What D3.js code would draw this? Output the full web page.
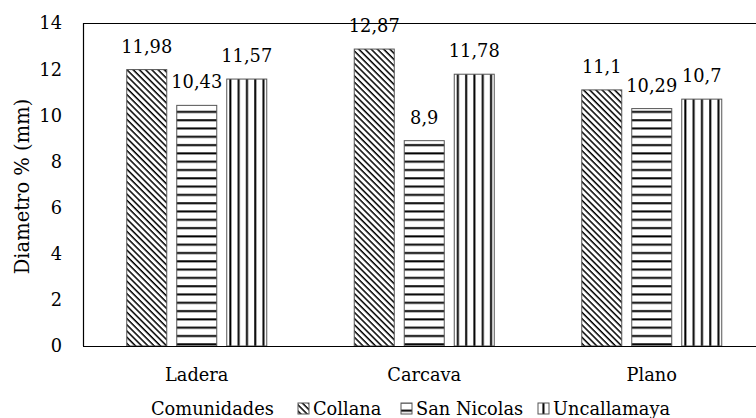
<!DOCTYPE html>
<html>
<head>
<meta charset="utf-8">
<script src="https://cdn.jsdelivr.net/npm/d3@7"></script>
<style>
  body { margin: 0; background: #fff; }
  svg { display: block; font-family: "DejaVu Serif", serif; }
</style>
</head>
<body>
<div id="chart"></div>
<script>
const categories = ["Ladera", "Carcava", "Plano"];
const series = ["Collana", "San Nicolas", "Uncallamaya"];
const collana = [11.98, 12.87, 11.1];
const sanNicolas = [10.43, 8.9, 10.29];
const uncallamaya = [11.57, 11.78, 10.7];
const yTicks = [0, 2, 4, 6, 8, 10, 12, 14];
const labels = [["11,98", "12,87", "11,1"], ["10,43", "8,9", "10,29"], ["11,57", "11,78", "10,7"]];

const width = 756, height = 418;
const margin = { left: 83, top: 23, bottom: 346 };
const plotRight = 765.5;
const fs = 17.8;

const values = [collana, sanNicolas, uncallamaya];

const svg = d3.select("#chart")
    .append("svg")
    .attr("width", width)
    .attr("height", height);

// fill patterns
const defs = svg.append("defs");

let p1 = defs.append("pattern")
    .attr("id", "pat0")
    .attr("patternUnits", "userSpaceOnUse")
    .attr("width", 4.4).attr("height", 4.4)
    .attr("patternTransform", "rotate(45)");
p1.append("rect").attr("width", 4.4).attr("height", 4.4).attr("fill", "#fff");
p1.append("rect").attr("y", 0).attr("width", 4.4).attr("height", 1.5).attr("fill", "#000");

let p2 = defs.append("pattern")
    .attr("id", "pat1")
    .attr("patternUnits", "userSpaceOnUse")
    .attr("width", 8.3).attr("height", 8.3);
p2.append("rect").attr("width", 8.3).attr("height", 8.3).attr("fill", "#fff");
p2.append("rect").attr("y", 3).attr("width", 8.3).attr("height", 2).attr("fill", "#000");

let p3 = defs.append("pattern")
    .attr("id", "pat2")
    .attr("patternUnits", "userSpaceOnUse")
    .attr("width", 8.3).attr("height", 8.3);
p3.append("rect").attr("width", 8.3).attr("height", 8.3).attr("fill", "#fff");
p3.append("rect").attr("x", 3).attr("width", 2).attr("height", 8.3).attr("fill", "#000");

const x0 = d3.scaleBand()
    .domain(categories)
    .range([margin.left, plotRight])
    .paddingInner(87.5 / 227.5)
    .paddingOuter(87.5 / 227.5 / 2);

const x1 = d3.scaleBand()
    .domain(series)
    .range([0, x0.bandwidth()])
    .paddingInner(0.2);

const y = d3.scaleLinear()
    .domain([0, 14])
    .range([margin.bottom, margin.top]);

// y tick labels
svg.append("g")
    .selectAll("text")
    .data(yTicks)
    .join("text")
    .attr("x", 62)
    .attr("y", d => y(d))
    .attr("dy", "0.36em")
    .attr("text-anchor", "end")
    .attr("font-size", fs)
    .text(d => d);

// y axis title
svg.append("text")
    .attr("transform", "translate(22," + ((margin.top + margin.bottom) / 2 + 2) + ") rotate(-90)")
    .attr("text-anchor", "middle")
    .attr("dy", "0.36em")
    .attr("font-size", 19.5)
    .text("Diametro % (mm)");

// bars
const groups = svg.append("g")
    .selectAll("g")
    .data(categories)
    .join("g")
    .attr("transform", d => "translate(" + x0(d) + ",0)");

groups.selectAll("rect")
    .data((c, ci) => series.map((s, si) => ({ s: s, si: si, v: values[si][ci], lab: labels[si][ci] })))
    .join("rect")
    .attr("x", d => x1(d.s))
    .attr("y", d => y(d.v))
    .attr("width", x1.bandwidth())
    .attr("height", d => y(0) - y(d.v))
    .attr("fill", d => "url(#pat" + d.si + ")")
    .attr("stroke", "#555")
    .attr("stroke-width", 1);

groups.selectAll("text")
    .data((c, ci) => series.map((s, si) => ({ s: s, si: si, v: values[si][ci], lab: labels[si][ci] })))
    .join("text")
    .attr("x", d => x1(d.s) + x1.bandwidth() / 2)
    .attr("y", d => y(d.v) - 17)
    .attr("text-anchor", "middle")
    .attr("font-size", fs)
    .text(d => d.lab);

// frame
svg.append("line")
    .attr("x1", margin.left).attr("x2", width)
    .attr("y1", margin.top + 0.5).attr("y2", margin.top + 0.5)
    .attr("stroke", "#000").attr("stroke-width", 1.2);
svg.append("line")
    .attr("x1", margin.left + 0.5).attr("x2", margin.left + 0.5)
    .attr("y1", margin.top).attr("y2", margin.bottom)
    .attr("stroke", "#000").attr("stroke-width", 1.2);
svg.append("line")
    .attr("x1", margin.left).attr("x2", width)
    .attr("y1", margin.bottom + 0.5).attr("y2", margin.bottom + 0.5)
    .attr("stroke", "#000").attr("stroke-width", 1.2);

// category labels
svg.append("g")
    .selectAll("text")
    .data(categories)
    .join("text")
    .attr("x", d => x0(d) + x0.bandwidth() / 2)
    .attr("y", 381)
    .attr("text-anchor", "middle")
    .attr("font-size", fs)
    .text(d => d);

// legend
const legend = svg.append("g");
legend.append("text")
    .attr("x", 151).attr("y", 415)
    .attr("font-size", fs)
    .text("Comunidades");

const legX = [298, 401, 538];
legend.selectAll("rect")
    .data(series)
    .join("rect")
    .attr("x", (d, i) => legX[i])
    .attr("y", 403)
    .attr("width", 11).attr("height", 11)
    .attr("fill", (d, i) => "url(#pat" + i + ")")
    .attr("stroke", "#555");

legend.selectAll("text.item")
    .data(series)
    .join("text")
    .attr("class", "item")
    .attr("x", (d, i) => legX[i] + 15)
    .attr("y", 415)
    .attr("font-size", fs)
    .text(d => d);
</script>
</body>
</html>
